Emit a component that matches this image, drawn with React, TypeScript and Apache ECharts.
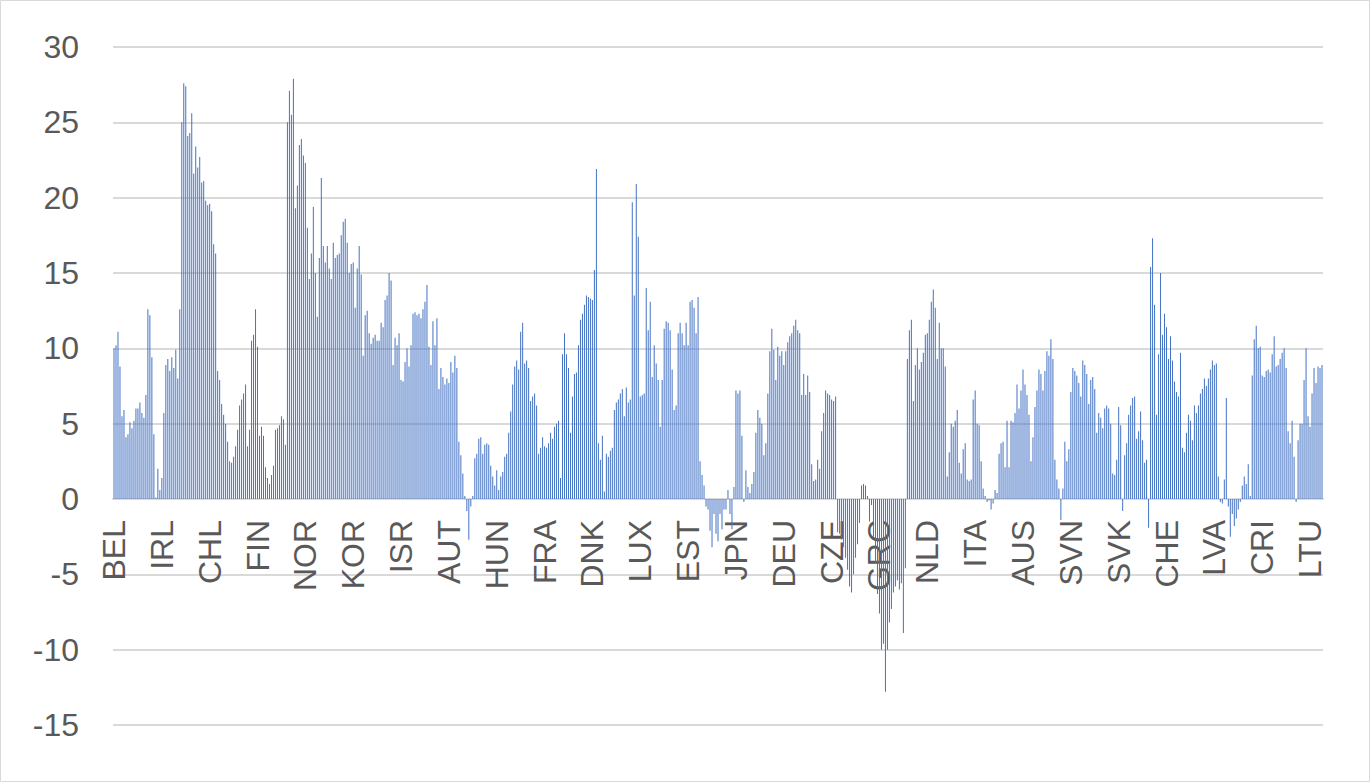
import React, { useEffect, useRef } from "react";
import * as echarts from "echarts";

// Country codes shown on the category axis (one label every `labelEvery` bars)
const labelCountries = [
  "BEL", "IRL", "CHL", "FIN", "NOR", "KOR", "ISR", "AUT", "HUN", "FRA", "DNK", "LUX", "EST",
  "JPN", "DEU", "CZE", "GRC", "NLD", "ITA", "AUS", "SVN", "SVK", "CHE", "LVA", "CRI", "LTU",
];
const labelEvery = 24;

// Bar values, left to right
const values = [
  10.0, 10.2, 11.1, 8.8, 5.5, 5.9, 4.1, 4.3, 5.1, 4.7,
  5.2, 6.0, 6.0, 6.4, 5.7, 5.4, 6.9, 12.6, 12.2, 9.4,
  4.3, 0.1, 2.0, 0.6, 1.4, 5.7, 8.9, 9.3, 8.5, 9.4,
  8.7, 9.9, 8.0, 12.6, 25.0, 27.6, 27.4, 24.1, 24.3, 25.6,
  21.6, 23.4, 22.0, 22.7, 21.0, 21.1, 19.8, 19.5, 19.6, 19.1,
  16.9, 16.3, 8.5, 7.9, 6.3, 5.6, 5.0, 3.8, 2.5, 2.4,
  2.8, 3.5, 4.6, 6.2, 6.6, 7.0, 7.6, 3.5, 4.6, 10.5,
  10.9, 12.6, 10.1, 4.2, 4.8, 4.2, 2.1, 1.4, 1.0, 1.6,
  2.2, 4.6, 4.7, 4.9, 5.5, 5.3, 3.6, 25.0, 27.1, 25.5,
  27.9, 19.3, 20.8, 23.5, 23.9, 22.8, 22.3, 18.0, 14.6, 16.3,
  19.4, 15.0, 12.1, 16.0, 21.3, 16.8, 15.7, 16.8, 15.3, 14.6,
  17.0, 16.0, 16.2, 16.3, 17.5, 18.4, 18.6, 17.0, 15.0, 15.6,
  15.7, 12.7, 15.3, 16.8, 14.9, 9.5, 12.2, 12.5, 11.0, 10.3,
  10.7, 10.9, 10.5, 10.5, 11.7, 11.4, 13.2, 13.5, 15.0, 14.5,
  8.9, 10.7, 10.2, 11.0, 7.9, 7.8, 9.1, 10.0, 8.8, 10.2,
  12.3, 12.4, 12.2, 12.3, 12.0, 12.6, 13.1, 14.2, 10.1, 8.9,
  11.8, 10.2, 12.0, 7.3, 8.7, 8.1, 7.6, 8.0, 7.7, 9.1,
  8.4, 9.5, 8.7, 3.8, 2.9, 1.7, 0.2, -0.8, -2.7, -0.5,
  0.2, 2.7, 3.0, 4.0, 4.1, 3.0, 3.6, 3.7, 3.6, 2.2,
  1.5, 0.9, 1.9, 0.6, 1.5, 1.8, 2.8, 3.0, 4.4, 5.8,
  7.6, 8.8, 9.2, 8.6, 11.1, 11.7, 9.0, 9.2, 8.7, 6.5,
  6.8, 7.0, 6.2, 3.0, 3.4, 4.1, 3.5, 3.4, 3.7, 4.4,
  4.0, 4.8, 5.0, 5.2, 1.4, 9.6, 11.0, 9.6, 8.7, 4.4,
  6.8, 8.3, 8.4, 10.2, 11.9, 12.3, 12.9, 13.5, 13.4, 13.3,
  13.2, 15.2, 21.9, 3.7, 2.6, 4.2, 0.5, 3.0, 2.8, 3.2,
  3.4, 5.9, 6.4, 6.6, 7.0, 7.3, 5.5, 7.4, 6.4, 6.6,
  19.7, 13.5, 20.9, 17.4, 6.8, 6.9, 7.0, 14.0, 11.2, 13.1,
  8.1, 10.2, 9.0, 7.9, 4.8, 7.9, 11.3, 11.8, 11.7, 11.2,
  8.6, 5.9, 6.2, 11.0, 11.7, 11.0, 10.2, 11.7, 10.2, 13.1,
  13.2, 12.7, 11.0, 13.4, 2.5, 1.6, 0.9, -0.5, -0.7, -2.1,
  -3.2, -1.0, -2.3, -2.8, -1.0, -2.0, -0.7, -0.7, 0.6, -1.0,
  -2.0, 0.8, 7.2, 7.0, 7.2, 4.2, -0.2, 1.9, 0.8, 0.4,
  1.0, 1.8, 4.4, 5.9, 5.4, 5.0, 2.9, 3.7, 7.0, 9.8,
  11.3, 9.9, 7.9, 10.1, 9.5, 9.8, 8.9, 9.8, 10.4, 10.8,
  11.0, 11.5, 11.9, 11.2, 11.0, 6.9, 8.3, 6.9, 8.2, 7.1,
  2.3, 1.2, 1.3, 2.6, 2.0, 4.5, 5.7, 7.2, 7.0, 6.9,
  6.6, 6.5, 6.8, -2.2, -2.3, -2.7, -3.2, -3.9, -4.7, -5.8,
  -6.2, -5.0, -3.9, -3.0, -1.6, 0.9, 1.0, 0.9, 0.2, -1.5,
  -0.4, -2.5, -4.3, -6.3, -7.6, -10.0, -9.6, -12.8, -10.0, -8.2,
  -7.3, -6.2, -5.8, -5.4, -6.0, -5.6, -8.9, -4.6, 9.3, 11.2,
  11.9, 6.5, 8.9, 10.0, 8.6, 9.1, 9.7, 10.9, 11.0, 11.9,
  13.1, 13.9, 12.7, 9.3, 11.7, 10.0, 10.0, 8.8, 1.5, 3.1,
  5.0, 4.8, 5.2, 5.9, 2.4, 1.7, 3.3, 3.7, 1.3, 1.2,
  1.3, 6.6, 7.2, 5.0, 4.9, 2.5, 0.7, 0.2, -0.2, -0.1,
  -0.7, -0.3, 0.6, 0.4, 3.0, 3.7, 3.8, 2.1, 5.2, 2.1,
  5.2, 5.1, 5.7, 7.6, 6.0, 7.2, 8.6, 7.6, 6.9, 5.6,
  2.5, 4.1, 6.1, 7.2, 8.6, 8.3, 7.2, 8.5, 9.8, 9.5,
  10.6, 9.3, 2.6, 1.3, 0.7, -1.4, 0.7, 3.8, 2.5, 3.3,
  7.1, 8.7, 8.5, 8.2, 7.7, 6.8, 9.2, 8.9, 8.3, 6.3,
  7.9, 8.1, 7.3, 4.4, 5.7, 5.4, 4.7, 6.0, 6.2, 6.0,
  5.0, 1.7, 1.6, 2.6, 6.1, 4.9, -0.8, 2.9, 3.7, 5.6,
  6.2, 6.7, 6.8, 4.0, 4.5, 5.8, 3.9, 2.4, 2.6, -1.9,
  15.4, 17.3, 12.9, 5.6, 9.6, 15.0, 10.9, 12.3, 11.4, 9.3,
  10.8, 9.2, 7.8, 7.1, 6.8, 9.7, 3.4, 3.1, 4.4, 5.6,
  5.2, 3.9, 6.2, 5.7, 6.2, 7.0, 7.3, 8.0, 7.5, 8.0,
  8.6, 9.2, 8.9, 9.0, 1.5, -0.2, -0.3, 1.3, 6.7, -0.5,
  -2.5, -1.0, -1.8, -1.3, -0.7, -0.2, 0.9, 1.5, 1.0, 2.3,
  0.2, 8.2, 10.6, 11.5, 10.0, 10.1, 8.2, 8.1, 8.5, 8.6,
  8.4, 9.6, 10.8, 8.8, 8.9, 9.3, 9.7, 10.0, 8.7, 4.5,
  3.7, 5.2, 2.8, -0.2, 3.9, 5.0, 5.0, 7.9, 10.0, 5.5,
  4.8, 7.0, 8.7, 7.7, 8.8, 8.7, 8.9,
];

// Value axis ticks
const yMin = -15;
const yMax = 30;
const yStep = 5;

const categories = values.map(
  (_, i) => `${labelCountries[Math.min(labelCountries.length - 1, Math.floor(i / labelEvery))]}|${i}`
);

const FONT = "'Liberation Sans', Arial, sans-serif";
const TEXT = "#595959";
const GRID = "#D9D9D9";

const GRID_TOP = 47;
const GRID_BOTTOM = 57;
const GRID_HEIGHT = 782 - GRID_TOP - GRID_BOTTOM;
// distance from the bottom of the plot to the zero line, derived from the scale
const zeroOffset = (GRID_HEIGHT * (0 - yMin)) / (yMax - yMin);

export default function App() {
  const ref = useRef<HTMLDivElement>(null);

  useEffect(() => {
    if (!ref.current) return;
    const chart = echarts.init(ref.current, null, { renderer: "svg" });
    chart.setOption({
      animation: false,
      backgroundColor: "#ffffff",
      textStyle: { fontFamily: FONT },
      grid: {
        left: 113,
        right: 47,
        top: GRID_TOP,
        bottom: GRID_BOTTOM,
        containLabel: false,
        outerBoundsMode: "none",
      },
      xAxis: {
        type: "category",
        data: categories,
        boundaryGap: true,
        position: "bottom",
        offset: -zeroOffset,
        axisLine: { show: true, onZero: false, lineStyle: { color: GRID, width: 2 } },
        axisTick: { show: false },
        splitLine: { show: false },
        axisLabel: {
          interval: labelEvery - 1,
          rotate: 90,
          margin: 21,
          color: TEXT,
          fontSize: 32,
          fontFamily: FONT,
          formatter: (v: string) => v.split("|")[0],
        },
      },
      yAxis: {
        type: "value",
        min: yMin,
        max: yMax,
        interval: yStep,
        axisLine: { show: false },
        axisTick: { show: false },
        splitLine: { show: true, lineStyle: { color: GRID, width: 2 } },
        axisLabel: {
          margin: 34,
          color: TEXT,
          fontSize: 32,
          fontFamily: FONT,
        },
      },
      graphic: [
        {
          type: "rect",
          shape: { x: 0.5, y: 0.5, width: 1369, height: 781 },
          style: { fill: "none", stroke: GRID, lineWidth: 1 },
          silent: true,
        },
      ],
      series: [
        {
          type: "bar",
          data: values,
          barCategoryGap: "60%",
          itemStyle: { color: "#4472C4" },
          emphasis: { disabled: true },
        },
      ],
    });
    return () => chart.dispose();
  }, []);

  return (
    <div
      ref={ref}
      style={{ position: "fixed", left: 0, top: 0, width: 1370, height: 782, background: "#fff" }}
    />
  );
}
